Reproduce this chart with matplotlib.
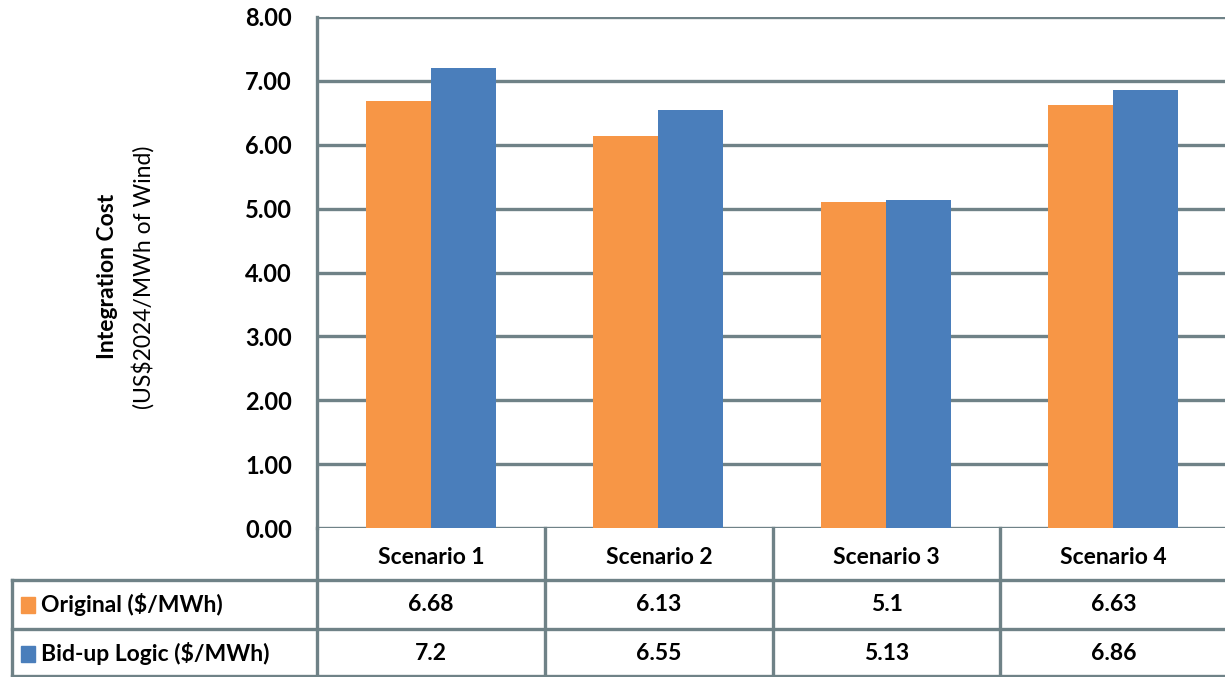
import matplotlib.pyplot as plt
import matplotlib.lines as mlines
import numpy as np

scenarios = ["Scenario 1", "Scenario 2", "Scenario 3", "Scenario 4"]
series_names = ["Original ($/MWh)", "Bid-up Logic ($/MWh)"]
original = [6.68, 6.13, 5.1, 6.63]
bidup = [7.2, 6.55, 5.13, 6.86]
value_labels = [["6.68", "6.13", "5.1", "6.63"], ["7.2", "6.55", "5.13", "6.86"]]
yticks = [0, 1, 2, 3, 4, 5, 6, 7, 8]

orange = "#f79646"
blue = "#4a7ebb"
grid = "#6f8287"

plt.rcParams['font.family'] = ['Lato', 'DejaVu Sans']

W, H = 1225, 677
fig = plt.figure(figsize=(W / 100, H / 100), dpi=100)

def fx(px):
    return px / W

def fy(py):
    return 1 - py / H

# plot area in pixels
x0, x1 = 317, 1227
y_top, y_zero = 17, 528
ax = fig.add_axes([fx(x0), fy(y_zero), fx(x1) - fx(x0), fy(y_top) - fy(y_zero)])

x = np.arange(len(scenarios)) + 0.5
bw = 0.286
ax.bar(x - bw / 2, original, bw, color=orange, zorder=3)
ax.bar(x + bw / 2, bidup, bw, color=blue, zorder=3)

ax.set_xlim(0, len(scenarios))
ax.set_ylim(0, 8)
ax.set_yticks(yticks)
ax.set_yticklabels([f"{v:.2f}" for v in yticks], fontsize=17, fontweight='bold')
ax.set_xticks([])
ax.tick_params(axis='y', length=0, pad=18)
ax.yaxis.grid(True, color=grid, linewidth=2.4, zorder=0)
for s in ["top", "right", "bottom"]:
    ax.spines[s].set_visible(False)
ax.spines["left"].set_color(grid)
ax.spines["left"].set_linewidth(2.4)

fig.text(fx(108), fy(276), "Integration Cost", rotation=90,
         ha='center', va='center', fontsize=16.5, fontweight='bold')
fig.text(fx(143), fy(277), "(US$2024/MWh of Wind)", rotation=90,
         ha='center', va='center', fontsize=16.5)

# data table underneath
col_edges = [317, 545, 773, 1000, 1227]
row_edges = [528, 580, 629, 678]
left_edge = 12

def hline(xa, xb, y):
    fig.add_artist(mlines.Line2D([fx(xa), fx(xb)], [fy(y), fy(y)], color=grid, lw=2.4))

def vline(xp, ya, yb):
    fig.add_artist(mlines.Line2D([fx(xp), fx(xp)], [fy(ya), fy(yb)], color=grid, lw=2.4))

hline(left_edge, W, row_edges[1])
hline(left_edge, W, row_edges[2])
hline(left_edge, W, row_edges[3] - 2)
for cx in col_edges[:-1]:
    vline(cx, row_edges[0], row_edges[3])
vline(left_edge, row_edges[1], row_edges[3])

for i, name in enumerate(scenarios):
    cx = (col_edges[i] + col_edges[i + 1]) / 2
    fig.text(fx(cx), fy((row_edges[0] + row_edges[1]) / 2 + 3), name,
             ha='center', va='center', fontsize=16.5, fontweight='bold')
    for r in range(2):
        cy = (row_edges[r + 1] + row_edges[r + 2]) / 2
        fig.text(fx(cx), fy(cy), value_labels[r][i],
                 ha='center', va='center', fontsize=16.5, fontweight='bold')

for r, (name, col) in enumerate(zip(series_names, [orange, blue])):
    cy = (row_edges[r + 1] + row_edges[r + 2]) / 2
    fig.add_artist(plt.Rectangle((fx(21), fy(cy + 8)), fx(14), fy(cy - 8) - fy(cy + 8),
                                 color=col, transform=fig.transFigure))
    fig.text(fx(41), fy(cy), name, ha='left', va='center', fontsize=16.5, fontweight='bold')

fig.savefig("out.png", dpi=100)
